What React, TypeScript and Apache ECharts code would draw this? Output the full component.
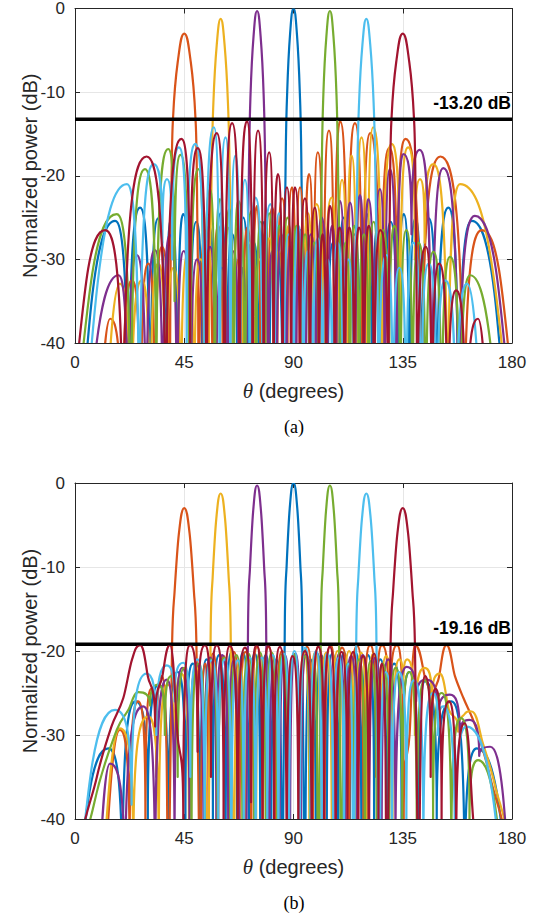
import React, { useEffect, useRef } from "react";
import * as echarts from "echarts";

// ---------- DATA ----------
const X_TICKS = [0, 45, 90, 135, 180];
const Y_TICKS = [-40, -30, -20, -10, 0];
const THRESH_A = -13.2;
const THRESH_B = -19.16;
const THRESH_A_LABEL = "-13.20 dB";
const THRESH_B_LABEL = "-19.16 dB";
const SERIES_NAMES = ["90°", "45°", "60°", "75°", "105°", "120°", "135°"];
const COLORS = ["#0072BD", "#D95319", "#EDB120", "#7E2F8E", "#77AC30", "#4DBEEE", "#A2142F"];

// (a) [theta (deg), normalized power (dB)] – lobe peaks and nulls
const A_BLUE: [number, number][] = [[0,-60],[16.5,-25.4],[22,-60],[26.8,-23.8],[31,-60],[34.3,-25.1],[37.2,-60],[39.8,-25.1],[42.2,-60],[44.6,-24.6],[47.2,-60],[50,-25.5],[52.6,-60],[55.2,-26],[57.6,-60],[60,-24.5],[62.4,-60],[64.8,-27],[67,-60],[69.3,-25],[71.5,-60],[73.7,-28],[75.8,-60],[78,-25.5],[80,-60],[82.2,-27],[85.7,-60],[86.7,-20],[87.4,-10],[88.6,-3],[90,0],[91.4,-3],[92.6,-10],[93.3,-20],[94.3,-60],[97.8,-27],[100,-60],[102,-25.5],[104,-60],[106.3,-28],[108.5,-60],[110.7,-25],[113,-60],[115.2,-27],[117.6,-60],[120,-24.5],[122.4,-60],[124.8,-26],[127.4,-60],[130,-25.5],[132.8,-60],[135.4,-24.6],[137.8,-60],[140.2,-25.1],[142.8,-60],[145.7,-25.1],[149,-60],[153.8,-23.8],[158,-60],[163.5,-25.4],[180,-60]];
const A_ORANGE: [number, number][] = [[0,-70],[8,-60],[14.5,-37.1],[19.5,-60],[23.5,-32.5],[27,-60],[30.2,-30.5],[33,-60],[35.8,-28.5],[39.1,-60],[39.7,-23],[40.4,-13],[42.5,-6],[45,-3],[47.5,-6],[49.6,-13],[50.3,-23],[50.9,-60],[54.2,-26.5],[56.8,-60],[59,-26],[61,-60],[63,-26.2],[65,-60],[67,-26.2],[69,-60],[71,-26.2],[73,-60],[75,-23.6],[76.5,-60],[78,-27],[79.5,-60],[81.2,-23.8],[83.2,-60],[85.3,-22.7],[87.4,-60],[89.4,-21.4],[91,-60],[92.7,-21.4],[94.5,-60],[96.4,-19.8],[98.2,-60],[100,-17.2],[102.3,-60],[104.6,-14.6],[106.8,-60],[109.2,-13.5],[112.2,-60],[115.3,-13.7],[118.4,-60],[121.6,-14.9],[125.8,-60],[129.4,-16.7],[132.6,-40],[136.2,-15.6],[142.5,-60],[150.5,-17.7],[160.2,-60],[167.6,-26.5],[180,-45]];
const A_YELLOW: [number, number][] = [[0,-70],[10,-60],[18.5,-32.9],[23,-60],[27.5,-32.5],[31,-60],[34.3,-30.5],[37.5,-60],[40.6,-31],[43.6,-60],[46.4,-29.5],[49,-60],[51.7,-30],[55,-60],[56.2,-21.3],[57,-11.3],[58.4,-4.3],[60,-1.25],[61.6,-4.3],[63,-11.3],[63.8,-21.3],[65,-60],[67.5,-30],[69.6,-60],[71.8,-28],[74,-60],[76,-30],[78,-60],[80,-27.5],[82,-60],[84,-29],[86,-60],[88,-26],[90,-60],[92,-27],[94,-60],[96,-24.5],[97.8,-60],[99.5,-23.4],[102.6,-60],[105.7,-22.6],[108,-60],[110,-20.5],[112,-60],[113.9,-17.6],[116,-60],[118,-15.4],[120.4,-60],[122.8,-14.2],[126.5,-60],[130.4,-16.2],[134,-40],[137.2,-16.6],[140,-30],[142.1,-20.4],[144,-28],[147.6,-18.6],[153.5,-60],[158.6,-21],[180,-52]];
const A_PURPLE: [number, number][] = [[0,-75],[17.9,-31.9],[22,-60],[25.4,-29.5],[29.3,-60],[32.9,-28.9],[36.2,-60],[39.1,-27.1],[42,-60],[44.8,-29],[47.6,-60],[50.3,-30],[53,-60],[55.6,-28.5],[58,-60],[60.5,-31],[62.8,-60],[65,-29],[67.6,-60],[69,-31],[70.5,-60],[71.6,-20.3],[72.3,-10.3],[73.55,-3.3],[75,-0.3],[76.45,-3.3],[77.7,-10.3],[78.4,-20.3],[79.5,-60],[81.3,-29],[83,-60],[85,-27],[87,-60],[89,-28],[91,-60],[93,-26.5],[95,-60],[97.2,-27],[99.4,-60],[101.6,-25],[103.8,-60],[106,-26],[107.6,-60],[109.1,-23],[111.2,-60],[113.3,-23.2],[115.4,-60],[117.4,-22.3],[119.1,-60],[120.8,-22.8],[123.2,-60],[125.6,-21.6],[127.6,-60],[129.7,-19.2],[132.4,-60],[135.2,-17.4],[138.6,-27],[142,-16.9],[147,-60],[151.7,-19.1],[158,-60],[164.7,-24.8],[180,-50]];
const A_GREEN: [number, number][] = [[0,-50],[17.2,-24.6],[23,-60],[28.8,-19.2],[33.5,-50],[38.4,-16.8],[41,-35],[43.5,-17.5],[47.2,-60],[50.8,-19.2],[53.2,-60],[55.6,-21.6],[57.6,-60],[59.7,-22.8],[61.6,-60],[63.5,-24],[65.4,-60],[67.3,-23],[70,-60],[72.8,-24.2],[74.6,-60],[76.5,-25.5],[78.2,-60],[80,-24.5],[82,-60],[84,-26],[85.8,-60],[87.5,-25],[89.4,-60],[91.2,-26],[93,-60],[94.8,-27],[96.6,-60],[98.5,-28],[100.5,-60],[101.6,-20.3],[102.3,-10.3],[103.55,-3.3],[105,-0.3],[106.45,-3.3],[107.7,-10.3],[108.4,-20.3],[109.5,-60],[111.5,-28],[113.3,-60],[115,-26],[117,-60],[119,-27],[121,-60],[123,-25.5],[125,-60],[127,-26.5],[129.2,-60],[131.5,-26],[134,-60],[136.5,-26.5],[139,-60],[141.5,-28],[144.5,-60],[147.6,-29.1],[151,-60],[154.5,-29.7],[158.5,-60],[162.8,-31.9],[180,-80]];
const A_LIGHTBLUE: [number, number][] = [[0,-68],[21.4,-21],[26.5,-60],[32.4,-18.6],[36,-28],[37.9,-20.4],[40,-30],[42.8,-16.6],[46,-40],[49.6,-16.2],[53.5,-60],[57.2,-14.2],[59.6,-60],[62,-15.4],[64,-60],[66.1,-17.6],[68,-60],[70,-20.5],[72,-60],[74.3,-22.6],[77.4,-60],[80.5,-23.4],[82.2,-60],[84,-24.5],[86,-60],[88,-27],[90,-60],[92,-26],[94,-60],[96,-29],[98,-60],[100,-27.5],[102,-60],[104,-30],[106,-60],[108.2,-28],[110.4,-60],[112.5,-30],[115,-60],[116.2,-21.3],[117,-11.3],[118.4,-4.3],[120,-1.25],[121.6,-4.3],[123,-11.3],[123.8,-21.3],[125,-60],[128.3,-29.5],[131,-60],[133.6,-31],[136.4,-60],[139.4,-28],[142.5,-60],[145.7,-30.5],[149,-60],[152.5,-32.5],[157,-60],[161.5,-32.9],[170,-60],[180,-70]];
const A_DARKRED: [number, number][] = [[0,-45],[12.4,-26.5],[19.8,-60],[29.5,-17.7],[37.5,-60],[43.8,-15.6],[47.4,-40],[50.6,-16.7],[54.2,-60],[58.4,-14.9],[61.6,-60],[64.7,-13.7],[67.8,-60],[70.8,-13.5],[73.2,-60],[75.4,-14.6],[77.7,-60],[80,-17.2],[81.8,-60],[83.6,-19.8],[85.5,-60],[87.3,-21.4],[89,-60],[90.6,-21.4],[92.6,-60],[94.7,-22.7],[96.8,-60],[98.8,-23.8],[100.5,-60],[102,-27],[103.5,-60],[105,-23.6],[107,-60],[109,-26.2],[111,-60],[113,-26.2],[115,-60],[117,-26.2],[119,-60],[121,-26],[123.2,-60],[125.8,-26.5],[129.1,-60],[129.7,-23],[130.4,-13],[132.5,-6],[135,-3],[137.5,-6],[139.6,-13],[140.3,-23],[140.9,-60],[144.5,-28.5],[147,-60],[150,-30.5],[153.5,-60],[157,-33.7],[161,-60],[166,-37.1],[172,-60],[180,-70]];

// (b)
const B_BLUE: [number, number][] = [[0,-52],[13.7,-31.6],[19.5,-50],[25,-26],[30,-40],[34.5,-24],[38.5,-45],[42.2,-22.5],[45.5,-40],[48.6,-21.5],[51.5,-50],[54.2,-21],[56.8,-40],[59.4,-20.5],[62,-50],[64.4,-20.2],[66.8,-45],[69.2,-20.2],[71.6,-50],[74,-20.3],[76.3,-45],[78.6,-20.5],[80.8,-50],[83,-21],[85.2,-60],[85.75,-40],[86.45,-16],[87.15,-10],[88.45,-3],[90,0],[91.55,-3],[92.85,-10],[93.55,-16],[94.25,-40],[94.8,-60],[97,-21],[99.2,-50],[101.4,-20.5],[103.7,-45],[106,-20.3],[108.4,-50],[110.8,-20.2],[113.2,-45],[115.6,-20.2],[118,-50],[120.6,-20.5],[123.2,-40],[125.8,-21],[128.5,-50],[131.4,-21.5],[134.5,-40],[137.8,-22.5],[141.5,-45],[144.2,-23.6],[149,-40],[155,-26],[160.5,-50],[165.5,-31.6],[180,-52]];
const B_ORANGE: [number, number][] = [[0,-70],[10,-55],[18.5,-29.4],[22.5,-45],[26,-26],[29,-40],[31.5,-24.5],[33.5,-35],[35.8,-23],[38.2,-60],[39,-40],[40,-19],[41,-13],[42.8,-6],[45,-3],[47.2,-6],[49,-13],[50,-19],[51,-40],[51.8,-60],[53.6,-21.5],[55,-45],[56.8,-20.3],[59,-45],[61.3,-20.6],[63.3,-50],[65.4,-20.1],[67.8,-45],[70.2,-20.1],[72.6,-50],[75,-19.5],[77.4,-40],[79.8,-19.5],[82.5,-50],[85.3,-20],[88,-45],[90.4,-20.6],[92.8,-50],[95.6,-19.5],[98,-40],[100.4,-19.4],[102.8,-45],[105.2,-19.3],[107.5,-38],[110,-19.6],[113,-45],[116.2,-19.4],[118.8,-40],[121.6,-19.3],[124,-35],[126.5,-19.3],[129.5,-32],[132.6,-19.3],[135.4,-40],[137.8,-30],[140,-19.3],[144,-23],[147,-29],[150,-23],[153,-19.3],[156.5,-23],[160,-25.6],[165,-29],[171,-35],[180,-48]];
const B_YELLOW: [number, number][] = [[0,-70],[9,-55],[18.5,-29.2],[24,-45],[30.2,-27.8],[34.5,-45],[38.2,-24],[41,-35],[43.8,-22.7],[47,-45],[50,-22],[54.5,-60],[55.1,-40],[55.9,-17.25],[56.7,-11.25],[58.2,-4.25],[60,-1.25],[61.8,-4.25],[63.3,-11.25],[64.1,-17.25],[64.9,-40],[65.5,-60],[67.8,-21.5],[70,-50],[72.3,-21],[74.6,-45],[76.8,-20.8],[79,-50],[81.2,-20.6],[83.4,-45],[85.6,-20.5],[87.8,-50],[90,-20.4],[92.2,-45],[94.4,-20.3],[96.6,-50],[98.9,-20.2],[101.2,-45],[103.5,-20.2],[105.8,-50],[108.1,-20],[110.5,-45],[112.9,-20],[115.3,-50],[117.8,-20.2],[120.3,-45],[122.9,-20.3],[125.5,-50],[128.1,-20.6],[130.8,-40],[133.6,-21],[135.2,-25],[136.8,-21],[140,-30],[144,-22],[147,-26],[150.3,-22.7],[154,-27],[157.8,-29.6],[160.5,-27.5],[163.4,-27.2],[168,-31],[173,-36],[180,-46]];
const B_PURPLE: [number, number][] = [[0,-70],[8,-55],[14.4,-33.4],[20.6,-50],[28.1,-26.6],[33,-50],[37.8,-23.4],[41,-45],[44.2,-22],[47.2,-45],[50.2,-21.5],[53,-50],[55.6,-20.8],[58.2,-40],[60.7,-20.5],[63.2,-50],[65.6,-21],[68,-45],[70,-60],[70.6,-40],[71.3,-16.3],[72.05,-10.3],[73.4,-3.3],[75,-0.3],[76.6,-3.3],[77.95,-10.3],[78.7,-16.3],[79.4,-40],[80,-60],[82,-21],[84.2,-50],[86.4,-20.5],[88.6,-45],[90.8,-20.3],[93,-50],[95.2,-20.4],[97.4,-40],[99.6,-20.2],[101.9,-50],[104.2,-20.5],[106.5,-45],[108.9,-20.3],[111.3,-50],[113.7,-20.6],[116.1,-40],[118.6,-20.5],[121.1,-50],[123.7,-20.8],[126.3,-45],[129,-21],[132,-45],[136.6,-21.9],[140.5,-26],[144.8,-23.4],[149.5,-28],[154.4,-25.2],[158.5,-30],[162.4,-28.2],[166.5,-32.5],[171,-31.4],[180,-52]];
const B_GREEN: [number, number][] = [[0,-52],[8,-38],[17.2,-29.4],[22,-27],[26.1,-24.9],[30.9,-26.5],[34.5,-24],[37,-30],[39.5,-23],[42.3,-35],[45,-22],[48,-45],[50.8,-21.5],[53.5,-40],[56.2,-21],[58.8,-50],[61.4,-20.8],[64,-45],[66.5,-20.5],[69,-50],[71.4,-20.3],[73.8,-45],[76.2,-20.2],[78.6,-50],[81,-20.2],[83.3,-45],[85.6,-20.3],[87.9,-50],[90.2,-20.4],[92.5,-45],[94.8,-20.6],[96.9,-50],[98.5,-21.5],[100,-60],[100.6,-40],[101.3,-16.3],[102.05,-10.3],[103.4,-3.3],[105,-0.3],[106.6,-3.3],[107.95,-10.3],[108.7,-16.3],[109.4,-40],[110,-60],[112.3,-21.5],[114.6,-45],[117,-21],[119.4,-50],[121.8,-21.2],[124.3,-45],[126.8,-21.5],[129.4,-50],[132,-22],[134.8,-40],[137.6,-22.5],[140.8,-45],[144,-23.5],[147.5,-40],[151,-25],[155,-45],[159,-28],[162.5,-40],[166,-33],[180,-62]];
const B_LIGHTBLUE: [number, number][] = [[0,-52],[16.5,-27],[23.3,-38.3],[29.5,-22.7],[33.5,-30],[37.8,-21.7],[41,-26],[44.6,-21.4],[47.5,-35],[50.5,-21],[53.4,-45],[56.2,-21.1],[59,-40],[61.8,-21],[64.4,-50],[67,-21.1],[69.5,-45],[72,-20.8],[74.4,-50],[76.8,-20.8],[79.2,-45],[81.5,-20.5],[83.8,-50],[86,-20.3],[88.2,-45],[90.4,-20],[92.6,-50],[94.8,-19.6],[97,-45],[99.3,-20],[101.6,-50],[103.9,-20.3],[106.3,-45],[108.7,-20.8],[110.8,-50],[112.6,-21.5],[114.5,-60],[115.1,-40],[115.9,-17.25],[116.7,-11.25],[118.2,-4.25],[120,-1.25],[121.8,-4.25],[123.3,-11.25],[124.1,-17.25],[124.9,-40],[125.5,-60],[128,-22.5],[130.6,-45],[133.4,-22.5],[136.5,-40],[139.6,-23.5],[143.5,-45],[147.5,-25],[149.5,-30],[151.7,-26.6],[156.5,-45],[161.3,-29],[180,-60]];
const B_DARKRED: [number, number][] = [[0,-48],[9,-35],[15,-29],[19.9,-25.6],[23.5,-21],[26.8,-19.3],[30,-23],[33,-29],[36,-23],[39.1,-19.3],[42.2,-30],[44.6,-40],[47.4,-19.3],[50.5,-32],[53.5,-19.3],[56,-35],[58.4,-19.3],[61.2,-40],[63.8,-19.4],[67,-45],[70,-19.6],[72.5,-38],[74.8,-19.3],[77.2,-45],[79.6,-19.4],[82,-40],[84.4,-19.5],[87.2,-50],[89.6,-20.6],[92,-45],[94.7,-20],[97.5,-50],[100.2,-19.5],[102.6,-40],[105,-19.5],[107.4,-50],[109.8,-20.1],[112.2,-45],[114.6,-20.1],[116.7,-50],[118.7,-20.6],[121,-45],[123.2,-20.3],[125,-45],[126.4,-21.5],[128.2,-60],[129,-40],[130,-19],[131,-13],[132.8,-6],[135,-3],[137.2,-6],[139,-13],[140,-19],[141,-40],[141.8,-60],[144.2,-23],[146.5,-35],[148.5,-24.5],[151,-40],[154,-26],[157,-45],[160.6,-28.6],[164,-40],[166,-48],[180,-70]];

const DATA_A = [A_BLUE, A_ORANGE, A_YELLOW, A_PURPLE, A_GREEN, A_LIGHTBLUE, A_DARKRED];
const DATA_B = [B_BLUE, B_ORANGE, B_YELLOW, B_PURPLE, B_GREEN, B_LIGHTBLUE, B_DARKRED];

// ---------- STYLE ----------
const AXIS_COLOR = "#262626";
const SANS = "'Liberation Sans', Arial, Helvetica, sans-serif";
const SERIF = "'Liberation Serif', 'Times New Roman', serif";

// Draw a pattern curve through its peaks and nulls: rounded lobe tops, sharp V nulls
function makeRenderItem(points: [number, number][], color: string) {
  return (params: any, api: any) => {
    if (params.dataIndex !== 0) return null;
    const n = points.length;
    const px = points.map((p) => api.coord(p));
    const kind = points.map((p, i) => {
      if (i === 0 || i === n - 1) return "end";
      const prev = points[i - 1][1];
      const next = points[i + 1][1];
      if (p[1] > prev && p[1] > next) return "peak";
      if (p[1] < prev && p[1] < next) return "null";
      return "mono";
    });
    const slope = (i: number) => {
      const a = px[Math.max(0, i - 1)];
      const b = px[Math.min(n - 1, i + 1)];
      return (b[1] - a[1]) / (b[0] - a[0]);
    };
    let d = `M${px[0][0].toFixed(2)},${px[0][1].toFixed(2)}`;
    for (let i = 0; i < n - 1; i++) {
      const [xa, ya] = px[i];
      const [xb, yb] = px[i + 1];
      const dx = xb - xa;
      let c1x: number, c1y: number, c2x: number, c2y: number;
      const ka = kind[i];
      const kb = kind[i + 1];
      if (ka === "peak") {
        c1x = xa + 0.5 * dx; c1y = ya;
      } else if (ka === "null") {
        c1x = xa; c1y = ya + 0.9 * (yb - ya);
      } else if (ka === "end") {
        c1x = xa + dx / 3; c1y = ya + (2 / 3) * (yb - ya);
      } else {
        const s = slope(i);
        c1x = xa + dx / 3; c1y = ya + (s * dx) / 3;
      }
      if (kb === "peak") {
        c2x = xb - 0.5 * dx; c2y = yb;
      } else if (kb === "null") {
        c2x = xb; c2y = yb + 0.9 * (ya - yb);
      } else if (kb === "end") {
        c2x = xb - dx / 3; c2y = yb + (2 / 3) * (ya - yb);
      } else {
        const s = slope(i + 1);
        c2x = xb - dx / 3; c2y = yb - (s * dx) / 3;
      }
      d += ` C${c1x.toFixed(2)},${c1y.toFixed(2)} ${c2x.toFixed(2)},${c2y.toFixed(2)} ${xb.toFixed(2)},${yb.toFixed(2)}`;
    }
    return {
      type: "path",
      shape: { pathData: d },
      style: { stroke: color, fill: "none", lineWidth: 2.2, lineJoin: "round", lineCap: "round" },
    };
  };
}

function buildOption() {
  const grids = [
    { left: 75, right: 30, top: 7, height: 336 },
    { left: 75, right: 30, top: 483, height: 336 },
  ];
  const xAxes: any[] = [];
  const yAxes: any[] = [];
  grids.forEach((_, g) => {
    const common = {
      gridIndex: g,
      type: "value",
      min: X_TICKS[0],
      max: X_TICKS[X_TICKS.length - 1],
      interval: X_TICKS[1] - X_TICKS[0],
      axisLine: { show: true, onZero: false, lineStyle: { color: AXIS_COLOR, width: 1 } },
      axisTick: { show: true, inside: true, length: 5, lineStyle: { color: AXIS_COLOR } },
    };
    xAxes.push({
      ...common,
      position: "bottom",
      axisLabel: { color: AXIS_COLOR, fontSize: 17, fontFamily: SANS, margin: 11 },
      splitLine: { show: true, lineStyle: { color: "#e6e6e6", width: 1 } },
      name: "{i|θ} (degrees)",
      nameLocation: "middle",
      nameGap: 37,
      nameTextStyle: {
        color: AXIS_COLOR,
        fontSize: 20,
        fontFamily: SANS,
        rich: { i: { fontFamily: SERIF, fontStyle: "italic", fontSize: 21, color: AXIS_COLOR } },
      },
    });
    xAxes.push({ ...common, position: "top", axisLabel: { show: false }, splitLine: { show: false } });
    const ycommon = {
      gridIndex: g,
      type: "value",
      min: Y_TICKS[0],
      max: Y_TICKS[Y_TICKS.length - 1],
      interval: Y_TICKS[1] - Y_TICKS[0],
      axisLine: { show: true, onZero: false, lineStyle: { color: AXIS_COLOR, width: 1 } },
      axisTick: { show: true, inside: true, length: 5, lineStyle: { color: AXIS_COLOR } },
    };
    yAxes.push({
      ...ycommon,
      position: "left",
      axisLabel: { color: AXIS_COLOR, fontSize: 17, fontFamily: SANS, margin: 10 },
      splitLine: { show: true, lineStyle: { color: "#e6e6e6", width: 1 } },
      name: "Normalized power (dB)",
      nameLocation: "middle",
      nameGap: 35,
      nameMoveOverlap: false,
      nameRotate: 90,
      nameTextStyle: { color: AXIS_COLOR, fontSize: 20, fontFamily: SANS },
    });
    yAxes.push({ ...ycommon, position: "right", axisLabel: { show: false }, splitLine: { show: false } });
  });

  const series: any[] = [];
  [DATA_A, DATA_B].forEach((set, g) => {
    set.forEach((data, i) => {
      series.push({
        type: "custom",
        name: SERIES_NAMES[i] + (g === 0 ? " (a)" : " (b)"),
        xAxisIndex: g * 2,
        yAxisIndex: g * 2,
        data,
        encode: { x: 0, y: 1 },
        clip: true,
        renderItem: makeRenderItem(data, COLORS[i]),
        z: 2 + i,
      });
    });
    const th = g === 0 ? THRESH_A : THRESH_B;
    const lbl = g === 0 ? THRESH_A_LABEL : THRESH_B_LABEL;
    series.push({
      type: "line",
      name: "threshold " + (g === 0 ? "a" : "b"),
      xAxisIndex: g * 2,
      yAxisIndex: g * 2,
      data: [[X_TICKS[0], th], [X_TICKS[X_TICKS.length - 1], th]],
      showSymbol: false,
      symbol: "none",
      lineStyle: { color: "#000", width: 3 },
      z: 20,
      markLine: {
        silent: true,
        symbol: ["none", "none"],
        data: [{ yAxis: th }],
        lineStyle: { color: "#000", width: 3, type: "solid" },
        label: {
          show: true,
          position: "insideEndTop",
          formatter: lbl,
          color: "#000",
          fontWeight: "bold",
          fontSize: 17.5,
          fontFamily: SANS,
          distance: [1, 7],
        },
      },
    });
  });

  return {
    animation: false,
    backgroundColor: "#fff",
    grid: grids,
    xAxis: xAxes,
    yAxis: yAxes,
    series,
    graphic: [
      {
        type: "text",
        x: 294,
        y: 427,
        style: { text: "(a)", font: `18px ${SERIF}`, fill: "#000", align: "center", verticalAlign: "middle", textAlign: "center", textVerticalAlign: "middle" },
      },
      {
        type: "text",
        x: 294,
        y: 903,
        style: { text: "(b)", font: `18px ${SERIF}`, fill: "#000", align: "center", verticalAlign: "middle", textAlign: "center", textVerticalAlign: "middle" },
      },
    ],
  };
}

export default function App() {
  const ref = useRef<HTMLDivElement>(null);
  useEffect(() => {
    if (!ref.current) return;
    const chart = echarts.init(ref.current, undefined, { renderer: "svg" });
    chart.setOption(buildOption() as any);
    return () => chart.dispose();
  }, []);
  return (
    <div
      ref={ref}
      style={{ position: "fixed", left: 0, top: 0, width: 542, height: 920, background: "#fff" }}
    />
  );
}
